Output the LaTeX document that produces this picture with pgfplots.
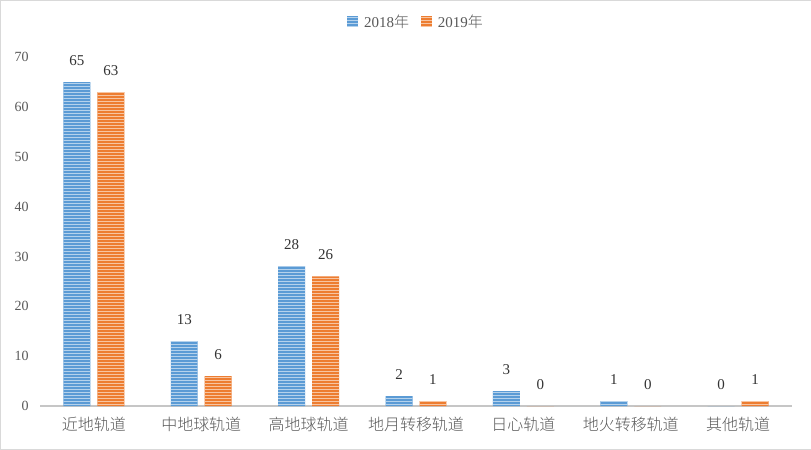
\documentclass[border=0pt]{standalone}
\usepackage{fontspec}
\setmainfont{Liberation Serif}
\newfontfamily\cjk{Noto Sans CJK SC Light}
\usepackage{pgfplots}
\pgfplotsset{compat=1.18}
\usetikzlibrary{patterns}
\definecolor{bblue}{HTML}{5B9BD5}
\definecolor{borange}{HTML}{ED7D31}
\definecolor{txt}{HTML}{595959}

\begin{document}
\begin{tikzpicture}
\begin{axis}[
    scale only axis, width=752pt, height=349pt,
    ybar=7pt, bar width=27pt,
    xmin=-0.5, xmax=6.5, ymin=0, ymax=70,
    xtick={0,...,6},
    xticklabels={近地轨道,中地球轨道,高地球轨道,地月转移轨道,日心轨道,地火转移轨道,其他轨道},
    xticklabel style={font=\cjk\fontsize{16}{16}\selectfont, text=txt, yshift=-8pt},
    ytick={0,10,...,70},
    yticklabel style={font=\fontsize{14}{14}\selectfont, text=txt, xshift=-8pt},
    /pgf/number format/assume math mode=true,
    major tick length=0pt,
    axis x line=bottom, axis y line=left,
    x axis line style={draw=gray!45, line width=2pt, -},
    y axis line style={draw=none},
    nodes near coords,
    every node near coord/.append style={font=\fontsize{15}{15}\selectfont, text=black!80, yshift=13pt},
    legend style={at={(0.5,1.1)}, anchor=center, draw=none, legend columns=2,
        font=\fontsize{15}{15}\selectfont, text=txt,
        /tikz/every even column/.append style={column sep=10pt}},
    legend image code/.code={\path[#1] (-2pt,-5pt) rectangle (9pt,6pt);},
    clip=false,
]
\addplot[fill=bblue, draw=none, postaction={pattern=horizontal lines, pattern color=white!55!bblue}]
    coordinates {(0,65)(1,13)(2,28)(3,2)(4,3)(5,1)(6,0)};
\addplot[fill=borange, draw=none, postaction={pattern=horizontal lines, pattern color=white!55!borange}]
    coordinates {(0,63)(1,6)(2,26)(3,1)(4,0)(5,0)(6,1)};
\legend{\hspace{4pt}2018{\cjk 年}, \hspace{4pt}2019{\cjk 年}}
\end{axis}
\draw[gray!30] ([xshift=-40pt,yshift=-43pt]current axis.south west) rectangle ([xshift=19pt,yshift=57pt]current axis.north east);
\end{tikzpicture}
\end{document}
